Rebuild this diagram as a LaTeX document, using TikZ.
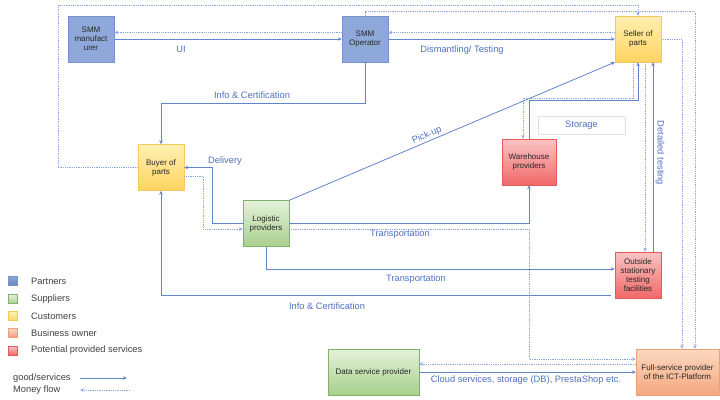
\documentclass[tikz,border=0pt]{standalone}
\usepackage{fontspec}
\setmainfont{Liberation Sans}
\usetikzlibrary{arrows.meta}

\definecolor{goodline}{RGB}{98,132,204}
\definecolor{moneyline}{RGB}{140,166,222}
\definecolor{lbltext}{RGB}{78,112,192}
\definecolor{partnerfill}{RGB}{143,168,218}
\definecolor{partnerdraw}{RGB}{118,146,204}
\definecolor{custtop}{RGB}{255,240,178}
\definecolor{custbot}{RGB}{255,212,96}
\definecolor{custdraw}{RGB}{244,200,92}
\definecolor{supptop}{RGB}{228,241,219}
\definecolor{suppbot}{RGB}{168,208,140}
\definecolor{suppdraw}{RGB}{128,178,106}
\definecolor{servtop}{RGB}{250,196,196}
\definecolor{servbot}{RGB}{240,104,104}
\definecolor{servdraw}{RGB}{232,88,88}
\definecolor{owntop}{RGB}{252,216,192}
\definecolor{ownbot}{RGB}{244,168,128}
\definecolor{owndraw}{RGB}{234,160,122}

\begin{document}
\begin{tikzpicture}[x=1pt, y=-1pt, >={Stealth[length=4pt,width=3.5pt]},
    box/.style={rectangle, align=center, inner sep=1pt, minimum width=46pt,
      minimum height=46pt, font=\fontsize{8}{9}\selectfont, text=black!85},
    partner/.style={box, fill=partnerfill, draw=partnerdraw},
    customer/.style={box, top color=custtop, bottom color=custbot, draw=custdraw},
    supplier/.style={box, top color=supptop, bottom color=suppbot, draw=suppdraw},
    service/.style={box, top color=servtop, bottom color=servbot, draw=servdraw},
    owner/.style={box, top color=owntop, bottom color=ownbot, draw=owndraw},
    goods/.style={draw=goodline, line width=0.8pt},
    money/.style={draw=moneyline, line width=0.8pt, densely dotted},
    lbl/.style={text=lbltext, font=\fontsize{9.3}{11}\selectfont, inner sep=1pt},
    key/.style={rectangle, minimum size=9pt, inner sep=0pt},
    keytext/.style={anchor=west, text=black!75, font=\fontsize{9.3}{11}\selectfont, inner sep=1pt}]
  \useasboundingbox (0,0) rectangle (720,399);

  % actors
  \node[partner] (manu) at (91,39) {SMM\\manufact\\urer};
  \node[partner] (oper) at (365,39) {SMM\\Operator};
  \node[customer] (seller) at (638,39) {Seller of\\parts};
  \node[customer] (buyer) at (161,167.5) {Buyer of\\parts};
  \node[supplier] (logi) at (266,223.5) {Logistic\\providers};
  \node[service, minimum width=54pt] (ware) at (529,162) {Warehouse\\providers};
  \node[service] (outside) at (638,275) {Outside\\stationary\\testing\\facilities};
  \node[supplier, minimum width=91pt] (data) at (373.5,372) {Data service provider};
  \node[owner, minimum width=83pt] (full) at (677.5,372) {Full-service provider\\of the ICT-Platform};
  \node[lbl, draw=black!12, fill=white, minimum width=87pt, minimum height=18pt] (storage) at (581.5,125) {Storage};

  % SMM manufacturer / operator / seller
  \draw[money,->] ([yshift=6.5pt]oper.west) -- ([yshift=6.5pt]manu.east);
  \draw[goods,->] (manu.east) -- (oper.west);
  \node[lbl] (ui) at (181,49) {UI};
  \draw[money,->] ([yshift=6.5pt]seller.west) -- ([yshift=6.5pt]oper.east);
  \draw[goods,->] (oper.east) -- (seller.west);
  \node[lbl] (dism) at (462,50) {Dismantling/ Testing};
  \draw[goods,->] (oper.south) -- ++(0,41) -| (buyer.north);
  \node[lbl] (info1) at (252,95) {Info \& Certification};

  % money frame round the top
  \draw[money,->] (buyer.west) -| (58,5) -| (seller.north);
  \draw[money,->] (oper.north) -- ++(0,-4) -| ([xshift=17.5pt]full.north);
  \draw[money,->] (seller.east) -| ([xshift=4.5pt]full.north);

  % buyer and logistics
  \draw[goods,->] (logi.west) -- ++(-30,0) |- (buyer.east);
  \node[lbl] (deliv) at (225,161) {Delivery};
  \draw[money,->] ([yshift=-8.5pt]buyer.east) -- ++(19,0) |- ([yshift=-5.5pt]logi.west);
  \draw[goods,->] (logi.north east) -- node[lbl, sloped, above, pos=0.43] (pick) {Pick-up} (seller.south west);

  % warehouse
  \draw[goods,->] (logi.east) -| (ware.south);
  \node[lbl] (trans1) at (400,234) {Transportation};
  \draw[goods,->] (ware.north) -- ++(0,-38) -| (seller.south);
  \draw[money,->] ([xshift=-5pt]seller.south) -- ++(0,36) -| ([xshift=-6pt]ware.north);
  \coordinate (fullin) at ([yshift=13pt]full.west);
  \draw[money,->] ([yshift=-5.5pt]logi.east) -| (ware.south |- fullin) -- (fullin);

  % testing facilities
  \draw[money,->] ([xshift=7pt]seller.south) -- ([xshift=7pt]outside.north);
  \draw[goods,->] ([xshift=15pt]outside.north) -- ([xshift=15pt]seller.south);
  \node[lbl, rotate=-90] (dtest) at (660,153) {Detailed testing};
  \draw[goods,->] (logi.south) |- ([yshift=6pt]outside.west);
  \node[lbl] (trans2) at (416,279) {Transportation};
  \draw[goods,->] ([xshift=-4pt,yshift=-20pt]outside.west) -| (buyer.south);
  \node[lbl] (info2) at (327,306) {Info \& Certification};

  % platform
  \draw[money,->] ([yshift=8pt]full.west) -- ([yshift=8pt]data.east);
  \draw[goods,->] (data.east) -- (full.west);
  \node[lbl] (cloud) at (526,380) {Cloud services, storage (DB), PrestaShop etc.};

  % legend
  \node[key, top color=partnerfill, bottom color=partnerdraw!90!black, draw=partnerdraw] (kpart) at (12.5,281) {};
  \node[keytext] (tpart) at (30,281) {Partners};
  \node[key, top color=supptop, bottom color=suppbot, draw=suppdraw] (ksupp) at (12.5,299) {};
  \node[keytext] (tsupp) at (30,299) {Suppliers};
  \node[key, top color=custtop, bottom color=custbot, draw=custdraw] (kcust) at (12.5,316) {};
  \node[keytext] (tcust) at (30,316) {Customers};
  \node[key, top color=owntop, bottom color=ownbot!90!red, draw=owndraw] (kown) at (12.5,333) {};
  \node[keytext] (town) at (30,333) {Business owner};
  \node[key, top color=servtop, bottom color=servbot, draw=servdraw] (kserv) at (12.5,350.5) {};
  \node[keytext] (tserv) at (30,350.5) {Potential provided services};

  \node[keytext] (tgood) at (12,378) {good/services};
  \node[keytext] (tmoney) at (12,390) {Money flow};
  \coordinate (g1) at (80,378);
  \coordinate (g2) at (127,378);
  \draw[goods,->] (g1) -- (g2);
  \coordinate (m1) at (130,390);
  \coordinate (m2) at (80,390);
  \draw[money,->] (m1) -- (m2);
\end{tikzpicture}
\end{document}
